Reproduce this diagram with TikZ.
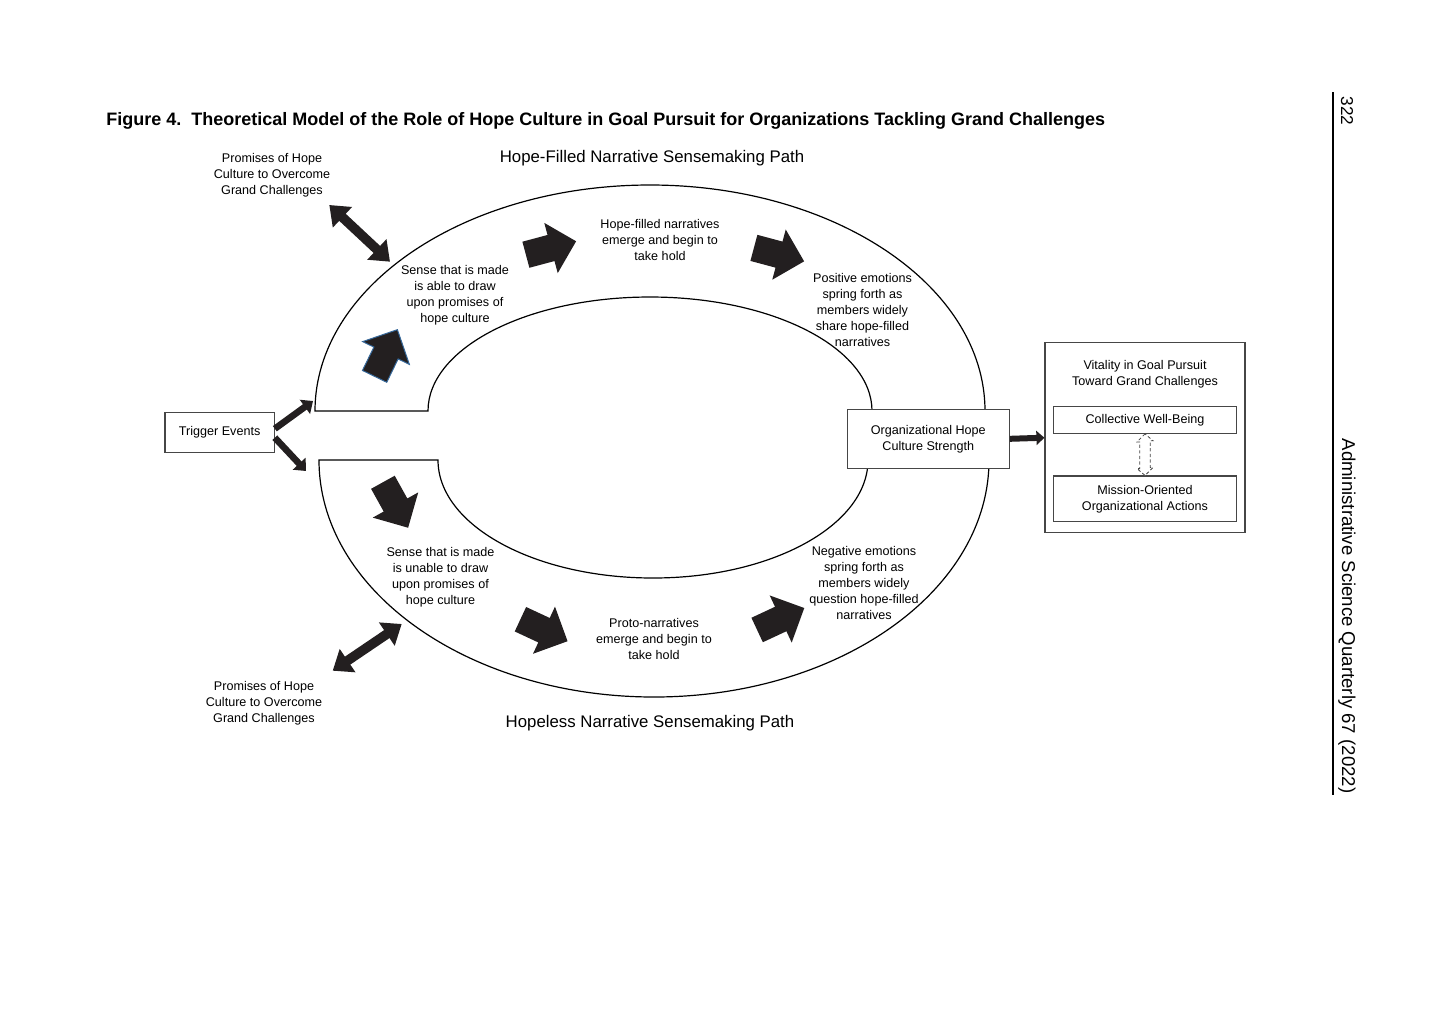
\documentclass[tikz,border=0pt]{standalone}
\usepackage{fontspec}
\setmainfont{Liberation Sans}
\usetikzlibrary{arrows.meta}
\definecolor{ink}{RGB}{35,31,32}
\definecolor{edgec}{RGB}{70,70,70}
\definecolor{blueedge}{RGB}{55,105,155}
\newcommand\smallfs{\fontsize{6.3}{8}\selectfont}
\newcommand\fatarrow[3][]{\fill[ink,#1,shift={(#2)},rotate=#3] (-26,-13.5) -- (0,-13.5) -- (0,-26) -- (26,0) -- (0,26) -- (0,13.5) -- (-26,13.5) -- cycle;}
\begin{document}
\begin{tikzpicture}[x=0.5pt,y=0.5pt,
  lbl/.style={align=center,font=\smallfs,inner sep=0pt,yshift=-0.8pt},
  boxn/.style={draw=edgec,line width=0.6pt,fill=white,inner sep=0pt,align=center,font=\smallfs},
  band/.style={draw=black,line width=0.6pt},
  dblarrow/.style={ink,line width=4.8pt,{Triangle[length=9pt,width=13.5pt]}-{Triangle[length=9pt,width=13.5pt]}},
  thkarrow/.style={ink,line width=3.3pt,-{Triangle[length=5pt,width=8.5pt]}},
  orgarrow/.style={ink,line width=3pt,-{Triangle[length=4pt,width=7pt]}},
  pathttl/.style={font=\fontsize{8.4}{10}\selectfont,inner sep=0pt,yshift=-0.8pt}]
\useasboundingbox (0,0) rectangle (1440,-1008);

% title
\node[anchor=west,font=\bfseries\fontsize{9}{11}\selectfont,inner sep=0pt] (title) at (106,-121)
  {Figure 4.\ \ Theoretical Model of the Role of Hope Culture in Goal Pursuit for Organizations Tackling Grand Challenges};

% bands
\draw[band] (315,-411) arc[start angle=180,end angle=0,x radius=335,y radius=226]
  -- (872,-411) arc[start angle=0,end angle=180,x radius=222,y radius=114] -- cycle;
\draw[band] (319,-460) arc[start angle=180,end angle=360,x radius=335,y radius=237]
  -- (868,-460) arc[start angle=360,end angle=180,x radius=215,y radius=118] -- cycle;

% fat arrows
\fatarrow[draw=blueedge,line width=0.5pt]{386,-353}{64}
\fatarrow{551,-248}{15}
\fatarrow{779,-254.6}{-15}
\fatarrow{395.5,-505}{-61}
\fatarrow{544,-630.2}{-25}
\fatarrow{780.7,-619}{25}

% labels
\node[lbl] (prom1) at (272,-174) {Promises of Hope\\Culture to Overcome\\Grand Challenges};
\node[pathttl] (hopet) at (652,-157) {Hope-Filled Narrative Sensemaking Path};
\node[lbl] (hfn) at (660,-238) {Hope-filled narratives\\emerge and begin to\\take hold};
\node[lbl] (sable) at (455,-294) {Sense that is made\\is able to draw\\upon promises of\\hope culture};
\node[lbl] (pos) at (862.5,-308.7) {Positive emotions\\spring forth as\\members widely\\share hope-filled\\narratives};
\node[lbl] (sunable) at (440.5,-576) {Sense that is made\\is unable to draw\\upon promises of\\hope culture};
\node[lbl] (neg) at (864,-581.5) {Negative emotions\\spring forth as\\members widely\\question hope-filled\\narratives};
\node[lbl] (proto) at (654,-637) {Proto-narratives\\emerge and begin to\\take hold};
\node[lbl] (prom2) at (264,-702) {Promises of Hope\\Culture to Overcome\\Grand Challenges};
\node[pathttl] (hopeless) at (650,-722) {Hopeless Narrative Sensemaking Path};

% boxes
\node[boxn,minimum width=54.65pt,minimum height=20pt] (trig) at (219.6,-432.7) {\raisebox{-0.8pt}{Trigger Events}};
\node[boxn,minimum width=81pt,minimum height=29.5pt] (org) at (928.3,-438.8) {Organizational Hope\\Culture Strength};
\node[boxn,minimum width=100pt,minimum height=95pt] (vit) at (1145,-437.7) {};
\node[lbl] (vitt) at (1145,-373) {Vitality in Goal Pursuit\\Toward Grand Challenges};
\node[boxn,minimum width=91.7pt,minimum height=13.3pt] (coll) at (1145,-420) {\raisebox{-0.8pt}{Collective Well-Being}};
\node[boxn,minimum width=91.7pt,minimum height=22.85pt] (miss) at (1145,-498.9) {Mission-Oriented\\Organizational Actions};

% connectors
\coordinate (pa1) at (329.3,-205);
\coordinate (pb1) at (390,-261.7);
\draw[dblarrow] (pa1) -- (pb1);
\coordinate (pa2) at (332.7,-670.7);
\coordinate (pb2) at (401.7,-624);
\draw[dblarrow] (pa2) -- (pb2);
\coordinate (tu) at (313,-401);
\coordinate (td) at (306,-471);
\draw[thkarrow] ([yshift=2pt]trig.east) -- (tu);
\draw[thkarrow] ([yshift=-2.5pt]trig.east) -- (td);
\draw[orgarrow] (org.east) -- (vit.west);
\draw[edgec,line width=0.4pt,dash pattern=on 1.6pt off 1.2pt,fill=white]
  (coll.south) -- ++(-8,-8) -- ++(2.7,0) -- ++(0,-26.7) -- ++(-2.7,0) -- (miss.north)
  -- ++(8,8) -- ++(-2.7,0) -- ++(0,26.7) -- ++(2.7,0) -- cycle;

% running head
\coordinate (rt) at (1333,-92);
\coordinate (rb) at (1333,-795);
\draw[line width=0.6pt] (rt) -- (rb);
\node[rotate=-90,font=\fontsize{9.3}{11}\selectfont,inner sep=0pt] (journal) at (1347,-616) {Administrative Science Quarterly 67 (2022)};
\node[rotate=-90,font=\fontsize{8.6}{10}\selectfont,inner sep=0pt] (pg) at (1347,-111) {322};
\end{tikzpicture}
\end{document}
